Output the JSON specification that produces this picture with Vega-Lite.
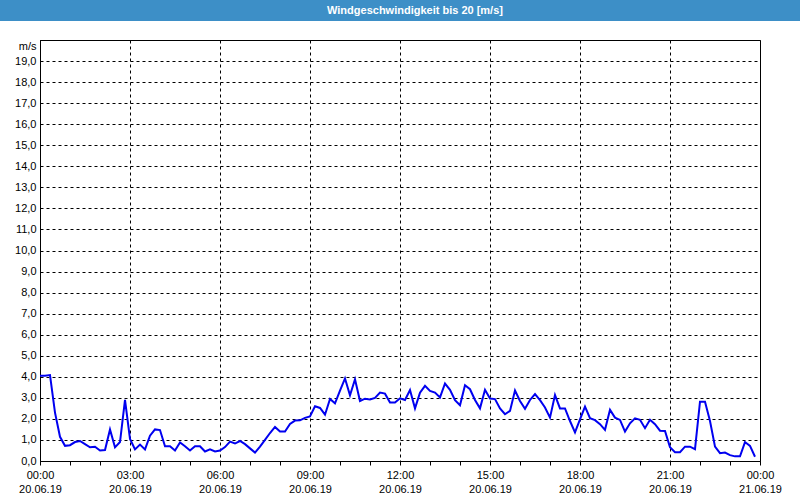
{
  "$schema": "https://vega.github.io/schema/vega-lite/v6.json",
  "background": "#ffffff",
  "padding": 0,
  "spacing": 19,
  "bounds": "flush",
  "center": true,
  "config": {"font": "Liberation Sans"},
  "vconcat": [
    {
      "width": 800,
      "height": 21,
      "view": {"fill": "#3d8fc7", "stroke": null},
      "data": {"values": [{"title": "Windgeschwindigkeit bis 20 [m/s]"}]},
      "mark": {"type": "text", "color": "#ffffff", "fontWeight": "bold", "fontSize": 11, "dx": 15},
      "encoding": {"text": {"field": "title"}}
    },
    {
      "width": 720,
      "height": 421,
      "view": {"stroke": "#000000", "strokeWidth": 1},
      "data": {
        "values": [
          {"t": "2019-06-20T00:00:00Z", "v": 4.05},
          {"t": "2019-06-20T00:10:00Z", "v": 4.05},
          {"t": "2019-06-20T00:20:00Z", "v": 4.08},
          {"t": "2019-06-20T00:30:00Z", "v": 2.3},
          {"t": "2019-06-20T00:40:00Z", "v": 1.15},
          {"t": "2019-06-20T00:50:00Z", "v": 0.72},
          {"t": "2019-06-20T01:00:00Z", "v": 0.75},
          {"t": "2019-06-20T01:10:00Z", "v": 0.9},
          {"t": "2019-06-20T01:20:00Z", "v": 0.95},
          {"t": "2019-06-20T01:30:00Z", "v": 0.8},
          {"t": "2019-06-20T01:40:00Z", "v": 0.65},
          {"t": "2019-06-20T01:50:00Z", "v": 0.68},
          {"t": "2019-06-20T02:00:00Z", "v": 0.5},
          {"t": "2019-06-20T02:10:00Z", "v": 0.52},
          {"t": "2019-06-20T02:20:00Z", "v": 1.5},
          {"t": "2019-06-20T02:30:00Z", "v": 0.65},
          {"t": "2019-06-20T02:40:00Z", "v": 0.9},
          {"t": "2019-06-20T02:50:00Z", "v": 2.9},
          {"t": "2019-06-20T03:00:00Z", "v": 1.05},
          {"t": "2019-06-20T03:10:00Z", "v": 0.55},
          {"t": "2019-06-20T03:20:00Z", "v": 0.78},
          {"t": "2019-06-20T03:30:00Z", "v": 0.55},
          {"t": "2019-06-20T03:40:00Z", "v": 1.2},
          {"t": "2019-06-20T03:50:00Z", "v": 1.5},
          {"t": "2019-06-20T04:00:00Z", "v": 1.47},
          {"t": "2019-06-20T04:10:00Z", "v": 0.7},
          {"t": "2019-06-20T04:20:00Z", "v": 0.7},
          {"t": "2019-06-20T04:30:00Z", "v": 0.5},
          {"t": "2019-06-20T04:40:00Z", "v": 0.88},
          {"t": "2019-06-20T04:50:00Z", "v": 0.7},
          {"t": "2019-06-20T05:00:00Z", "v": 0.5},
          {"t": "2019-06-20T05:10:00Z", "v": 0.7},
          {"t": "2019-06-20T05:20:00Z", "v": 0.7},
          {"t": "2019-06-20T05:30:00Z", "v": 0.45},
          {"t": "2019-06-20T05:40:00Z", "v": 0.55},
          {"t": "2019-06-20T05:50:00Z", "v": 0.45},
          {"t": "2019-06-20T06:00:00Z", "v": 0.5},
          {"t": "2019-06-20T06:10:00Z", "v": 0.66},
          {"t": "2019-06-20T06:20:00Z", "v": 0.92},
          {"t": "2019-06-20T06:30:00Z", "v": 0.83},
          {"t": "2019-06-20T06:40:00Z", "v": 0.95},
          {"t": "2019-06-20T06:50:00Z", "v": 0.8},
          {"t": "2019-06-20T07:00:00Z", "v": 0.6},
          {"t": "2019-06-20T07:10:00Z", "v": 0.4},
          {"t": "2019-06-20T07:20:00Z", "v": 0.68},
          {"t": "2019-06-20T07:30:00Z", "v": 1.0},
          {"t": "2019-06-20T07:40:00Z", "v": 1.33},
          {"t": "2019-06-20T07:50:00Z", "v": 1.62},
          {"t": "2019-06-20T08:00:00Z", "v": 1.4},
          {"t": "2019-06-20T08:10:00Z", "v": 1.4},
          {"t": "2019-06-20T08:20:00Z", "v": 1.76},
          {"t": "2019-06-20T08:30:00Z", "v": 1.92},
          {"t": "2019-06-20T08:40:00Z", "v": 1.93},
          {"t": "2019-06-20T08:50:00Z", "v": 2.05},
          {"t": "2019-06-20T09:00:00Z", "v": 2.12},
          {"t": "2019-06-20T09:10:00Z", "v": 2.6},
          {"t": "2019-06-20T09:20:00Z", "v": 2.52},
          {"t": "2019-06-20T09:30:00Z", "v": 2.2},
          {"t": "2019-06-20T09:40:00Z", "v": 2.95},
          {"t": "2019-06-20T09:50:00Z", "v": 2.74},
          {"t": "2019-06-20T10:00:00Z", "v": 3.34},
          {"t": "2019-06-20T10:10:00Z", "v": 3.92},
          {"t": "2019-06-20T10:20:00Z", "v": 3.12},
          {"t": "2019-06-20T10:30:00Z", "v": 3.88},
          {"t": "2019-06-20T10:40:00Z", "v": 2.85},
          {"t": "2019-06-20T10:50:00Z", "v": 2.96},
          {"t": "2019-06-20T11:00:00Z", "v": 2.92},
          {"t": "2019-06-20T11:10:00Z", "v": 3.0},
          {"t": "2019-06-20T11:20:00Z", "v": 3.25},
          {"t": "2019-06-20T11:30:00Z", "v": 3.2},
          {"t": "2019-06-20T11:40:00Z", "v": 2.78},
          {"t": "2019-06-20T11:50:00Z", "v": 2.78},
          {"t": "2019-06-20T12:00:00Z", "v": 2.98},
          {"t": "2019-06-20T12:10:00Z", "v": 2.9},
          {"t": "2019-06-20T12:20:00Z", "v": 3.37},
          {"t": "2019-06-20T12:30:00Z", "v": 2.5},
          {"t": "2019-06-20T12:40:00Z", "v": 3.25},
          {"t": "2019-06-20T12:50:00Z", "v": 3.57},
          {"t": "2019-06-20T13:00:00Z", "v": 3.33},
          {"t": "2019-06-20T13:10:00Z", "v": 3.25},
          {"t": "2019-06-20T13:20:00Z", "v": 3.02},
          {"t": "2019-06-20T13:30:00Z", "v": 3.68},
          {"t": "2019-06-20T13:40:00Z", "v": 3.38},
          {"t": "2019-06-20T13:50:00Z", "v": 2.89},
          {"t": "2019-06-20T14:00:00Z", "v": 2.65},
          {"t": "2019-06-20T14:10:00Z", "v": 3.6},
          {"t": "2019-06-20T14:20:00Z", "v": 3.41},
          {"t": "2019-06-20T14:30:00Z", "v": 2.9},
          {"t": "2019-06-20T14:40:00Z", "v": 2.5},
          {"t": "2019-06-20T14:50:00Z", "v": 3.38},
          {"t": "2019-06-20T15:00:00Z", "v": 2.97},
          {"t": "2019-06-20T15:10:00Z", "v": 2.94},
          {"t": "2019-06-20T15:20:00Z", "v": 2.5},
          {"t": "2019-06-20T15:30:00Z", "v": 2.22},
          {"t": "2019-06-20T15:40:00Z", "v": 2.38},
          {"t": "2019-06-20T15:50:00Z", "v": 3.35},
          {"t": "2019-06-20T16:00:00Z", "v": 2.85},
          {"t": "2019-06-20T16:10:00Z", "v": 2.48},
          {"t": "2019-06-20T16:20:00Z", "v": 2.9},
          {"t": "2019-06-20T16:30:00Z", "v": 3.18},
          {"t": "2019-06-20T16:40:00Z", "v": 2.89},
          {"t": "2019-06-20T16:50:00Z", "v": 2.54},
          {"t": "2019-06-20T17:00:00Z", "v": 2.06},
          {"t": "2019-06-20T17:10:00Z", "v": 3.13},
          {"t": "2019-06-20T17:20:00Z", "v": 2.5},
          {"t": "2019-06-20T17:30:00Z", "v": 2.5},
          {"t": "2019-06-20T17:40:00Z", "v": 1.9},
          {"t": "2019-06-20T17:50:00Z", "v": 1.36},
          {"t": "2019-06-20T18:00:00Z", "v": 1.98},
          {"t": "2019-06-20T18:10:00Z", "v": 2.58},
          {"t": "2019-06-20T18:20:00Z", "v": 2.03},
          {"t": "2019-06-20T18:30:00Z", "v": 1.94},
          {"t": "2019-06-20T18:40:00Z", "v": 1.75},
          {"t": "2019-06-20T18:50:00Z", "v": 1.48},
          {"t": "2019-06-20T19:00:00Z", "v": 2.43},
          {"t": "2019-06-20T19:10:00Z", "v": 2.06},
          {"t": "2019-06-20T19:20:00Z", "v": 1.95},
          {"t": "2019-06-20T19:30:00Z", "v": 1.4},
          {"t": "2019-06-20T19:40:00Z", "v": 1.79},
          {"t": "2019-06-20T19:50:00Z", "v": 2.03},
          {"t": "2019-06-20T20:00:00Z", "v": 1.96},
          {"t": "2019-06-20T20:10:00Z", "v": 1.56},
          {"t": "2019-06-20T20:20:00Z", "v": 1.96},
          {"t": "2019-06-20T20:30:00Z", "v": 1.75},
          {"t": "2019-06-20T20:40:00Z", "v": 1.44},
          {"t": "2019-06-20T20:50:00Z", "v": 1.43},
          {"t": "2019-06-20T21:00:00Z", "v": 0.65},
          {"t": "2019-06-20T21:10:00Z", "v": 0.42},
          {"t": "2019-06-20T21:20:00Z", "v": 0.42},
          {"t": "2019-06-20T21:30:00Z", "v": 0.68},
          {"t": "2019-06-20T21:40:00Z", "v": 0.68},
          {"t": "2019-06-20T21:50:00Z", "v": 0.56},
          {"t": "2019-06-20T22:00:00Z", "v": 2.82},
          {"t": "2019-06-20T22:10:00Z", "v": 2.82},
          {"t": "2019-06-20T22:20:00Z", "v": 1.9},
          {"t": "2019-06-20T22:30:00Z", "v": 0.68},
          {"t": "2019-06-20T22:40:00Z", "v": 0.37},
          {"t": "2019-06-20T22:50:00Z", "v": 0.4},
          {"t": "2019-06-20T23:00:00Z", "v": 0.28},
          {"t": "2019-06-20T23:10:00Z", "v": 0.22},
          {"t": "2019-06-20T23:20:00Z", "v": 0.22},
          {"t": "2019-06-20T23:30:00Z", "v": 0.9},
          {"t": "2019-06-20T23:40:00Z", "v": 0.72},
          {"t": "2019-06-20T23:50:00Z", "v": 0.2}
        ]
      },
      "mark": {"type": "line", "color": "#0000f0", "strokeWidth": 2, "clip": true},
      "encoding": {
        "x": {
          "field": "t",
          "type": "temporal",
          "title": null,
          "scale": {
            "type": "utc",
            "nice": false,
            "domain": [
              {"year": 2019, "month": 6, "date": 20, "utc": true},
              {"year": 2019, "month": 6, "date": 21, "utc": true}
            ]
          },
          "axis": {
            "tickCount": 24,
            "labelExpr": "utchours(datum.value) % 3 === 0 ? [utcFormat(datum.value, '%H:%M'), utcFormat(datum.value, '%d.%m.%y')] : ''",
            "labelFontSize": 11,
            "labelColor": "#000000",
            "labelLineHeight": 14,
            "labelPadding": 4,
            "labelOverlap": false,
            "labelFlush": false,
            "tickSize": 4,
            "tickColor": "#000000",
            "domainColor": "#000000",
            "grid": true,
            "gridColor": "#000000",
            "gridDash": [3, 3],
            "gridOpacity": {"condition": {"test": "utchours(datum.value) % 3 === 0", "value": 1}, "value": 0}
          }
        },
        "y": {
          "field": "v",
          "type": "quantitative",
          "title": null,
          "scale": {"domain": [0, 20], "nice": false},
          "axis": {
            "values": [0, 1, 2, 3, 4, 5, 6, 7, 8, 9, 10, 11, 12, 13, 14, 15, 16, 17, 18, 19, 20],
            "labelExpr": "datum.value === 20 ? 'm/s' : replace(format(datum.value, '.1f'), '.', ',')",
            "labelFontSize": 11,
            "labelColor": "#000000",
            "labelPadding": 4,
            "labelFlush": false,
            "labelBaseline": {"condition": {"test": "datum.value === 20", "value": "top"}, "value": "middle"},
            "ticks": false,
            "domainColor": "#000000",
            "grid": true,
            "gridColor": "#000000",
            "gridDash": [3, 3]
          }
        }
      }
    }
  ]
}
